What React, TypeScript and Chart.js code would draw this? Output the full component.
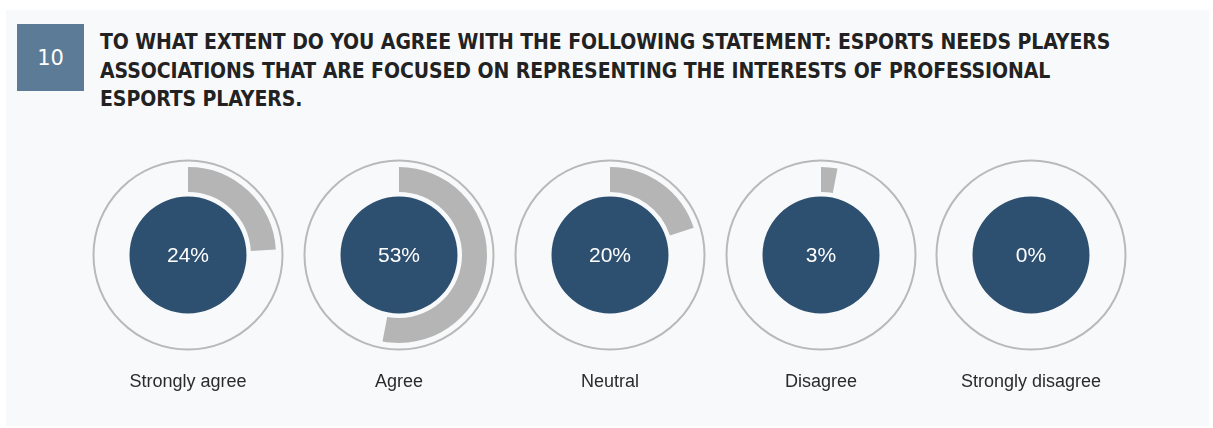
import React, { useEffect, useRef } from "react";
import { Chart, registerables } from "chart.js";

Chart.register(...registerables);

const categories = ["Strongly agree", "Agree", "Neutral", "Disagree", "Strongly disagree"];
const shares = [24, 53, 20, 3, 0];
const questionNumber = "10";
const titleLines = [
  "TO WHAT EXTENT DO YOU AGREE WITH THE FOLLOWING STATEMENT: ESPORTS NEEDS PLAYERS",
  "ASSOCIATIONS THAT ARE FOCUSED ON REPRESENTING THE INTERESTS OF PROFESSIONAL",
  "ESPORTS PLAYERS.",
];

const DARK = "#2e5070";
const GRAY = "#b4b5b4";
const OUTLINE = "#b9b9b9";
const CW = 210;
const CH = 250;

function Donut({ value, label }: { value: number; label: string }) {
  const ref = useRef<HTMLCanvasElement | null>(null);
  useEffect(() => {
    if (!ref.current) return;
    const deco = {
      id: "deco",
      beforeDatasetsDraw(chart: any) {
        const arc = chart.getDatasetMeta(0).data[0];
        if (!arc) return;
        const { x, y } = arc.getProps(["x", "y"], true);
        const ctx = chart.ctx;
        ctx.save();
        ctx.beginPath();
        ctx.arc(x, y, 94.5, 0, Math.PI * 2);
        ctx.strokeStyle = OUTLINE;
        ctx.lineWidth = 2;
        ctx.stroke();
        ctx.restore();
      },
      afterDatasetsDraw(chart: any) {
        const arc = chart.getDatasetMeta(0).data[0];
        if (!arc) return;
        const { x, y } = arc.getProps(["x", "y"], true);
        const ctx = chart.ctx;
        ctx.save();
        ctx.fillStyle = "#ffffff";
        ctx.font = "21px 'Liberation Sans', Arial, sans-serif";
        ctx.textAlign = "center";
        ctx.textBaseline = "middle";
        ctx.fillText(value + "%", x, y + 1);
        ctx.fillStyle = "#2b2b2b";
        ctx.font = "18px 'Liberation Sans', Arial, sans-serif";
        ctx.fillText(label, x, y + 127);
        ctx.restore();
      },
    };
    const chart = new Chart(ref.current, {
      type: "doughnut",
      data: {
        labels: [label, "rest"],
        datasets: [
          { data: [value, 100 - value], backgroundColor: [GRAY, "rgba(0,0,0,0)"], borderWidth: 0, weight: 25 } as any,
          { data: [100], backgroundColor: ["rgba(0,0,0,0)"], borderWidth: 0, weight: 4.5 } as any,
          { data: [100], backgroundColor: [DARK], borderWidth: 0, weight: 58.5 } as any,
        ],
      },
      options: {
        responsive: false,
        animation: false,
        cutout: 0,
        layout: { padding: { top: 12, bottom: 62, left: 17, right: 17 } },
        plugins: { legend: { display: false }, tooltip: { enabled: false } },
      } as any,
      plugins: [deco],
    });
    return () => chart.destroy();
  }, [value, label]);
  return <canvas ref={ref} width={CW} height={CH} style={{ width: CW, height: CH, display: "block" }} />;
}

export default function App() {
  const centers = [188, 399, 610, 821, 1031];
  return (
    <div style={{ position: "fixed", left: 0, top: 0, width: 1213, height: 428, background: "#ffffff", overflow: "hidden" }}>
      <div style={{ position: "absolute", left: 6, top: 10, width: 1203, height: 416, background: "#f8f9fb" }} />
      <div
        style={{
          position: "absolute", left: 17, top: 24, width: 67, height: 67, background: "#5b7b96",
          color: "#fff", display: "flex", alignItems: "center", justifyContent: "center",
          fontFamily: "'DejaVu Sans', sans-serif", fontSize: 21,
        }}
      >
        {questionNumber}
      </div>
      <div
        style={{
          position: "absolute", left: 100, top: 28, fontFamily: "'DejaVu Sans Condensed', sans-serif",
          fontWeight: "bold", fontSize: 21, lineHeight: "28.5px", color: "#222", whiteSpace: "nowrap",
          letterSpacing: "-0.07px",
        }}
      >
        {titleLines.map((t, i) => (
          <div key={i}>{t}</div>
        ))}
      </div>
      {categories.map((c, i) => (
        <div key={c} style={{ position: "absolute", left: centers[i] - CW / 2, top: 155 }}>
          <Donut value={shares[i]} label={c} />
        </div>
      ))}
    </div>
  );
}
